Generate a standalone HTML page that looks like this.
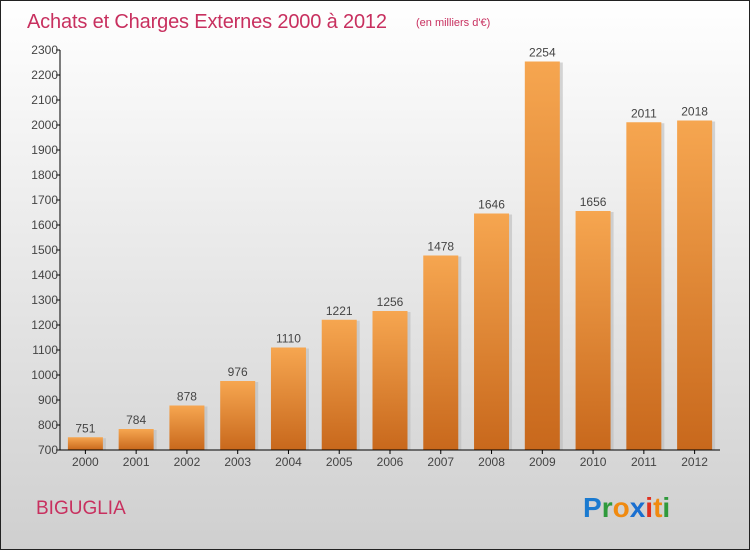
<!DOCTYPE html>
<html><head><meta charset="utf-8"><style>
html,body{margin:0;padding:0}
body{width:750px;height:550px;overflow:hidden;font-family:"Liberation Sans",sans-serif}
</style></head><body>
<svg width="750" height="550" xmlns="http://www.w3.org/2000/svg">
<defs>
<linearGradient id="bg" x1="0" y1="0" x2="0" y2="1"><stop offset="0" stop-color="#ffffff"/><stop offset="1" stop-color="#cfcfcf"/></linearGradient>
<linearGradient id="bar" x1="0" y1="0" x2="0" y2="1"><stop offset="0" stop-color="#f6a650"/><stop offset="1" stop-color="#c8681c"/></linearGradient>
</defs>
<rect x="0.5" y="0.5" width="749" height="549" fill="url(#bg)" stroke="#222"/>
<text x="27" y="28" font-size="20" fill="#c8305f" textLength="360">Achats et Charges Externes 2000 à 2012</text>
<text x="416" y="26" font-size="11" fill="#c8305f">(en milliers d'€)</text>
<g id="yaxis"></g>
<g id="bars"></g>
<g id="xaxis"></g>
<text x="36" y="514" font-size="19" fill="#c8305f">BIGUGLIA</text>
<g font-size="28" font-family="Liberation Sans, sans-serif" font-weight="bold">
<text x="583" y="517"><tspan fill="#1a7ad0">P</tspan><tspan fill="#2f9a3c">r</tspan><tspan fill="#f08a10">o</tspan><tspan fill="#1a6fd0">x</tspan><tspan fill="#e03020">i</tspan><tspan fill="#f08a10">t</tspan><tspan fill="#2f9a3c">i</tspan></text>
</g>
</svg>
<script>
const categories=["2000","2001","2002","2003","2004","2005","2006","2007","2008","2009","2010","2011","2012"];
const values=[751,784,878,976,1110,1221,1256,1478,1646,2254,1656,2011,2018];
const yTicks=[700,800,900,1000,1100,1200,1300,1400,1500,1600,1700,1800,1900,2000,2100,2200,2300];
const NS="http://www.w3.org/2000/svg";
const x0=60,x1=720,yMin=700,yMax=2300,yTop=50,yBot=450;
const band=(x1-x0)/categories.length;
function y(v){return yBot-(v-yMin)/(yMax-yMin)*(yBot-yTop);}
function xc(i){return x0+band*(i+0.5);}
function mk(t,a,p,txt){const e=document.createElementNS(NS,t);for(const k in a)e.setAttribute(k,a[k]);if(txt!==undefined)e.textContent=txt;p.appendChild(e);return e;}
const ya=document.getElementById('yaxis'),ba=document.getElementById('bars'),xa=document.getElementById('xaxis');
yTicks.forEach(t=>{
 const l=mk('line',{x1:x0-4,x2:x0,y1:y(t),y2:y(t),stroke:'#000'},ya);
 
 
 const tx=mk('text',{x:x0-2,y:y(t)+4,'text-anchor':'end','font-size':12,fill:'#444'},ya,String(t));
 
 
});
values.forEach((v,i)=>{
 const w=35,bx=xc(i)-w/2;
 const s=mk('rect',{x:bx+3,y:y(v)+1,width:w,height:yBot-y(v)-1,fill:'#bbb',opacity:0.6},ba);
 
 
 const r=mk('rect',{x:bx,y:y(v),width:w,height:yBot-y(v),fill:'url(#bar)'},ba);
 
 
 const lb=mk('text',{x:xc(i),y:y(v)-5,'text-anchor':'middle','font-size':12,fill:'#444'},ba,String(v));
 
 
 const xl=mk('text',{x:xc(i),y:466,'text-anchor':'middle','font-size':12,fill:'#444'},xa,categories[i]);
 
 
 const tk=mk('line',{x1:xc(i),x2:xc(i),y1:yBot,y2:yBot+4,stroke:'#000'},xa);
 
 
});
const ax=mk('line',{x1:x0,x2:x0,y1:yTop,y2:yBot,stroke:'#000'},ya);


const bx2=mk('line',{x1:x0,x2:x1,y1:yBot,y2:yBot,stroke:'#000'},xa);


</script>
</body></html>
